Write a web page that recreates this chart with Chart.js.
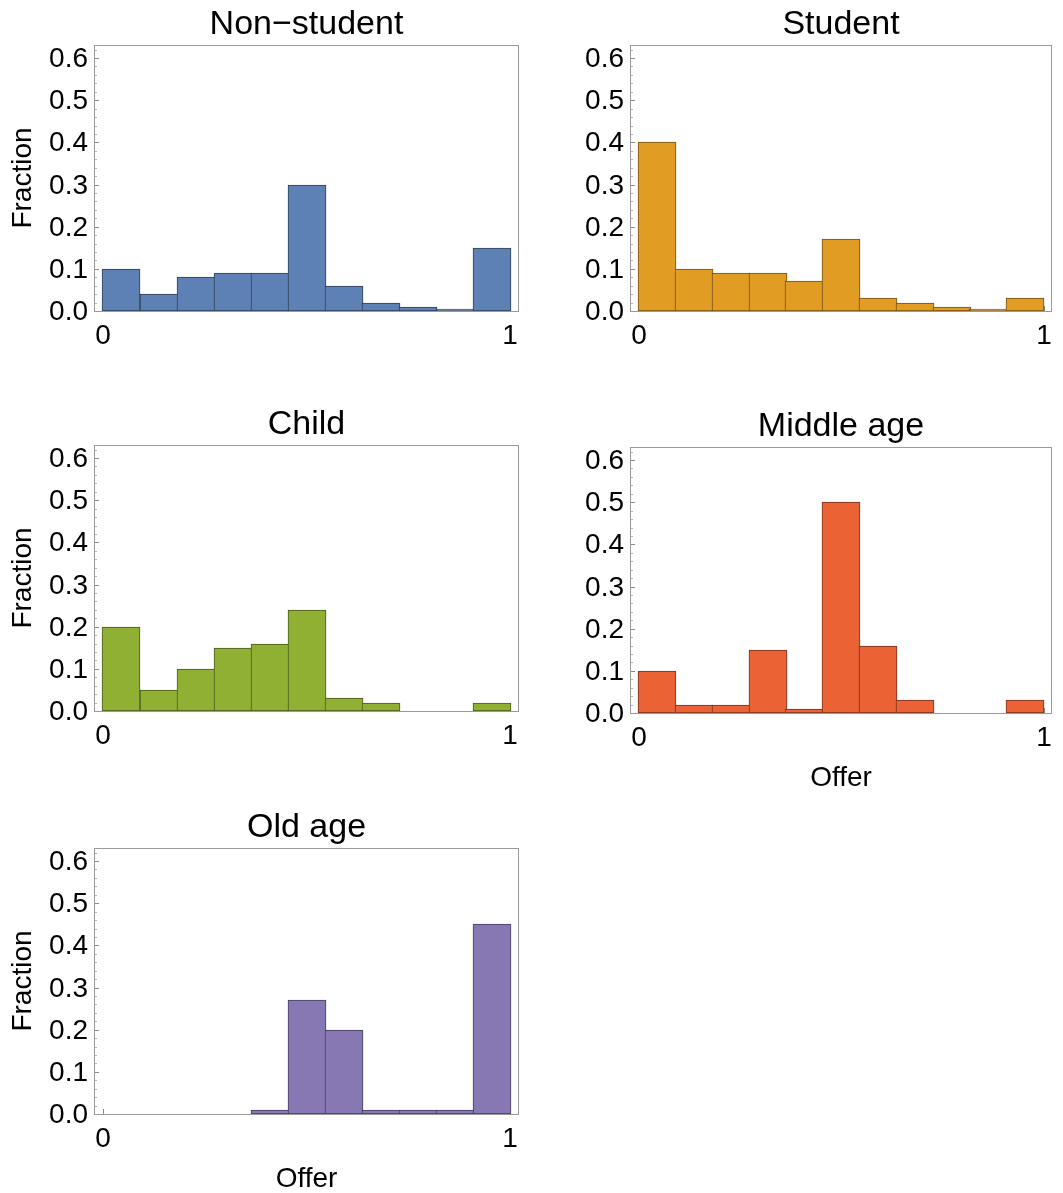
<!DOCTYPE html>
<html>
<head>
<meta charset="utf-8">
<script src="https://cdn.jsdelivr.net/npm/chart.js@4"></script>
<style>
  html, body { margin: 0; padding: 0; background: #fff; overflow: hidden; }
  body { width: 1063px; height: 1193px; position: relative; }
  canvas { position: absolute; }
</style>
</head>
<body>
<script>
// bins (11 equal bins between 0 and 1)
const binEdges = [0, 0.0909, 0.1818, 0.2727, 0.3636, 0.4545, 0.5455, 0.6364, 0.7273, 0.8182, 0.9091, 1];

// fraction per bin
const nonStudent = [0.10, 0.04, 0.08, 0.09, 0.09, 0.30, 0.06, 0.02, 0.01, 0.004, 0.15];
const student    = [0.40, 0.10, 0.09, 0.09, 0.07, 0.17, 0.03, 0.02, 0.01, 0.004, 0.03];
const child      = [0.20, 0.05, 0.10, 0.15, 0.16, 0.24, 0.03, 0.02, 0, 0, 0.02];
const middleAge  = [0.10, 0.02, 0.02, 0.15, 0.01, 0.50, 0.16, 0.03, 0, 0, 0.03];
const oldAge     = [0, 0, 0, 0, 0.01, 0.27, 0.20, 0.01, 0.01, 0.01, 0.45];

const yTicks = [0, 0.1, 0.2, 0.3, 0.4, 0.5, 0.6];
const yTickLabels = ['0.0', '0.1', '0.2', '0.3', '0.4', '0.5', '0.6'];
const xTicks = [0, 1];
const xTickLabels = ['0', '1'];

const Y_MAX = 0.631;
const X_MIN = -0.022;
const X_MAX = 1.021;

const FONT = '"Liberation Sans", Arial, Helvetica, sans-serif';

const panels = [
  { title: 'Non\u2212student', values: nonStudent, fill: '#5E81B5', edge: '#2f3f57', left: 0,   top: 0,   frameW: 425, fraction: true,  offer: false },
  { title: 'Student',          values: student,    fill: '#E19C24', edge: '#74501a', left: 536, top: 0,   frameW: 422, fraction: false, offer: false },
  { title: 'Child',            values: child,      fill: '#8FB032', edge: '#48591c', left: 0,   top: 400, frameW: 425, fraction: true,  offer: false },
  { title: 'Middle age',       values: middleAge,  fill: '#EB6235', edge: '#763120', left: 536, top: 402, frameW: 422, fraction: false, offer: true },
  { title: 'Old age',          values: oldAge,     fill: '#8778B3', edge: '#443c5c', left: 0,   top: 803, frameW: 425, fraction: true,  offer: true }
];

const AXIS_W = 94, TITLE_H = 45, FRAME_H = 266, XAXIS_H = 82, RIGHT_PAD = 4;

// frame with inward ticks, like the original
const frameTicks = {
  id: 'frameTicks',
  beforeDatasetsDraw(chart) {
    const { ctx, chartArea: a, scales: { x, y } } = chart;
    ctx.save();
    ctx.lineWidth = 1;
    for (let k = 1; k <= 31; k++) {
      const v = k * 0.02;
      if (v > Y_MAX) break;
      const py = Math.round(y.getPixelForValue(v)) + 0.5;
      const major = k % 5 === 0;
      ctx.strokeStyle = major ? '#8c8c8c' : '#b4b4b4';
      ctx.beginPath();
      ctx.moveTo(a.left, py);
      ctx.lineTo(a.left + (major ? 5 : 3), py);
      ctx.stroke();
    }
    ctx.strokeStyle = '#8c8c8c';
    xTicks.forEach(v => {
      const px = Math.round(x.getPixelForValue(v)) + 0.5;
      ctx.beginPath();
      ctx.moveTo(px, a.bottom);
      ctx.lineTo(px, a.bottom - 5);
      ctx.stroke();
    });
    ctx.restore();
  },
  afterDatasetsDraw(chart) {
    const { ctx, chartArea: a } = chart;
    ctx.save();
    ctx.strokeStyle = '#9a9a9a';
    ctx.lineWidth = 1;
    ctx.strokeRect(Math.round(a.left) + 0.5, Math.round(a.top) + 0.5,
      Math.round(a.right - a.left) - 1, Math.round(a.bottom - a.top));
    ctx.restore();
  }
};

Chart.defaults.font.family = FONT;
Chart.defaults.color = '#000';

function makePanel(p) {
  const canvas = document.createElement('canvas');
  const w = AXIS_W + p.frameW + RIGHT_PAD;
  const h = TITLE_H + FRAME_H + XAXIS_H;
  canvas.width = w;
  canvas.height = h;
  canvas.style.width = w + 'px';
  canvas.style.height = h + 'px';
  canvas.style.left = p.left + 'px';
  canvas.style.top = p.top + 'px';
  document.body.appendChild(canvas);

  const points = p.values.map((v, i) => ({
    x: (binEdges[i] + binEdges[i + 1]) / 2,
    y: v > 0 ? v : null
  }));
  // one pixel wider than a bin so neighbouring edges share a single line
  const binPx = p.frameW / (X_MAX - X_MIN) / p.values.length;

  return new Chart(canvas.getContext('2d'), {
    type: 'bar',
    data: {
      datasets: [{
        data: points,
        backgroundColor: p.fill,
        borderColor: p.edge,
        borderWidth: 1,
        borderSkipped: false,
        barThickness: Math.round(binPx) + 1
      }]
    },
    options: {
      responsive: false,
      animation: false,
      devicePixelRatio: 1,
      layout: { padding: { left: 0, top: 0, right: RIGHT_PAD, bottom: 0 } },
      plugins: {
        legend: { display: false },
        tooltip: { enabled: false },
        title: {
          display: true,
          fullSize: false,
          text: p.title,
          color: '#000',
          font: { size: 34, weight: 'normal', lineHeight: '40px' },
          padding: { top: 4.5, bottom: 0.5 }
        }
      },
      scales: {
        x: {
          type: 'linear',
          offset: false,
          alignToPixels: true,
          min: X_MIN,
          max: X_MAX,
          grid: { display: false, drawTicks: false },
          border: { display: false },
          afterBuildTicks: s => { s.ticks = xTicks.map(v => ({ value: v })); },
          afterFit: s => { s.height = XAXIS_H; s.paddingLeft = 0; s.paddingRight = 0; },
          ticks: {
            padding: 8,
            maxRotation: 0,
            autoSkip: false,
            font: { size: 28 },
            callback: (v, i) => xTickLabels[i]
          },
          title: {
            display: p.offer,
            text: 'Offer',
            font: { size: 28 },
            padding: { top: 0, bottom: 0 }
          }
        },
        y: {
          min: 0,
          max: Y_MAX,
          alignToPixels: true,
          grid: { display: false, drawTicks: false },
          border: { display: false },
          afterBuildTicks: s => { s.ticks = yTicks.map(v => ({ value: v })); },
          afterFit: s => { s.width = AXIS_W; s.paddingTop = 0; s.paddingBottom = 0; },
          ticks: {
            padding: 6,
            labelOffset: 1.5,
            autoSkip: false,
            font: { size: 28 },
            callback: (v, i) => yTickLabels[i]
          },
          title: {
            display: p.fraction,
            text: 'Fraction',
            font: { size: 28 },
            padding: { top: 6, bottom: 0 }
          }
        }
      }
    },
    plugins: [frameTicks]
  });
}

panels.forEach(makePanel);
</script>
</body>
</html>
